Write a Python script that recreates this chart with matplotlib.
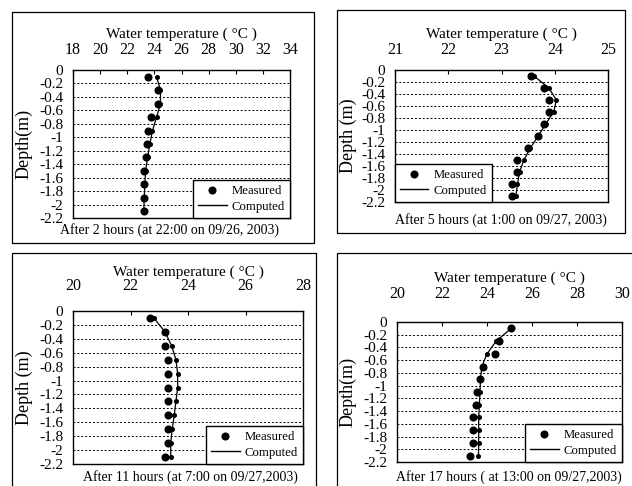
import matplotlib
matplotlib.use("Agg")
import matplotlib.pyplot as plt
from matplotlib.patches import Rectangle
from matplotlib.lines import Line2D

plt.rcParams['font.family'] = ['Liberation Serif', 'DejaVu Serif']

depth = [-0.1, -0.3, -0.5, -0.7, -0.9, -1.1, -1.3, -1.5, -1.7, -1.9, -2.1]

meas_2h = [23.54, 24.28, 24.28, 23.74, 23.50, 23.42, 23.35, 23.25, 23.22, 23.22, 23.22]
comp_2h = [24.16, 24.45, 24.45, 24.16, 23.86, 23.67, 23.50, 23.35, 23.30, 23.25, 23.22]

meas_5h = [23.55, 23.79, 23.89, 23.89, 23.80, 23.69, 23.50, 23.30, 23.30, 23.20, 23.20]
comp_5h = [23.61, 23.89, 24.03, 23.98, 23.83, 23.69, 23.54, 23.42, 23.34, 23.30, 23.27]

meas_11h = [22.67, 23.20, 23.20, 23.31, 23.31, 23.31, 23.31, 23.31, 23.31, 23.31, 23.20]
comp_11h = [22.81, 23.20, 23.43, 23.58, 23.64, 23.64, 23.58, 23.52, 23.45, 23.40, 23.40]

meas_17h = [25.07, 24.53, 24.36, 23.81, 23.71, 23.56, 23.49, 23.37, 23.37, 23.37, 23.26]
comp_17h = [25.07, 24.41, 24.00, 23.77, 23.71, 23.69, 23.66, 23.63, 23.63, 23.63, 23.62]

yticks = [0, -0.2, -0.4, -0.6, -0.8, -1, -1.2, -1.4, -1.6, -1.8, -2, -2.2]
ytick_labels = ['0', '-0.2', '-0.4', '-0.6', '-0.8', '-1', '-1.2', '-1.4', '-1.6', '-1.8', '-2', '-2.2']

xticks_2h = [18, 20, 22, 24, 26, 28, 30, 32, 34]
xticks_5h = [21, 22, 23, 24, 25]
xticks_11h = [20, 22, 24, 26, 28]
xticks_17h = [20, 22, 24, 26, 28, 30]

captions = ["After 2 hours (at 22:00 on 09/26, 2003)",
            "After 5 hours (at 1:00 on 09/27, 2003)",
            "After 11 hours (at 7:00 on 09/27,2003)",
            "After 17 hours ( at 13:00 on 09/27,2003)"]
ylabels = ["Depth(m)", "Depth (m)", "Depth (m)", "Depth(m)"]
xtitle = "Water temperature ( °C )"

W, H = 632, 486
fig = plt.figure(figsize=(W / 100, H / 100), dpi=100)


def fx(px):
    return px / W


def fy(py):
    return 1 - py / H


# panel frames (pixel coords: left, top, right, bottom)
frames = [(12, 12, 314, 243), (337, 10, 625, 233), (12, 253, 316, 492), (337, 253, 634, 492)]
for l, t, r, b in frames:
    fig.patches.append(Rectangle((fx(l), fy(b)), fx(r - l), (b - t) / H, transform=fig.transFigure,
                                 fill=False, edgecolor='black', lw=0.9))

# axes rects in pixels (left, top, right, bottom)
rects = [(73, 70, 290, 218), (395, 70, 608, 202), (73, 311, 303, 464), (397, 322, 622, 462)]
series = [(meas_2h, comp_2h, xticks_2h), (meas_5h, comp_5h, xticks_5h),
          (meas_11h, comp_11h, xticks_11h), (meas_17h, comp_17h, xticks_17h)]
legend_locs = ['lower right', 'lower left', 'lower right', 'lower right']
tick_pads = [8.6, 8.6, 12, 14.6]
title_pads = [3, 3, 2, 3]
caption_y = [230, 220, 477, 477]
caption_x = [169, 501, 190, 509]
ylabel_x = [33, 357, 33, 357]

for i, ((l, t, r, b), (meas, comp, xt)) in enumerate(zip(rects, series)):
    ax = fig.add_axes([fx(l), fy(b), fx(r - l), (b - t) / H])
    ax.plot(comp, depth, color='black', lw=0.9, marker='o', markersize=2.6, label='Computed')
    ax.plot(meas, depth, linestyle='none', marker='o', color='black', markersize=4.8, label='Measured')
    ax.set_xlim(xt[0], xt[-1])
    ax.set_ylim(-2.2, 0)
    ax.set_xticks(xt)
    ax.set_xticklabels([str(v) for v in xt], fontsize=11.5)
    ax.xaxis.tick_top()
    ax.tick_params(axis='x', direction='in', length=3, pad=tick_pads[i], top=True, bottom=False)
    ax.set_yticks(yticks)
    ax.set_yticklabels(ytick_labels, fontsize=11)
    ax.tick_params(axis='y', direction='in', length=0, pad=7)
    ax.yaxis.grid(True, linestyle=(0, (2, 2)), color='black', lw=0.7)
    for s in ax.spines.values():
        s.set_linewidth(1.0)
    ax.xaxis.set_label_position('top')
    ax.set_xlabel(xtitle, fontsize=11, labelpad=title_pads[i])
    ax.set_ylabel(ylabels[i], fontsize=13)
    ax.yaxis.set_label_coords((ylabel_x[i] - l) / (r - l), 0.5)
    handles = [Line2D([], [], linestyle='none', marker='o', color='black', markersize=4.8),
               Line2D([], [], color='black', lw=1.0)]
    leg = ax.legend(handles, ['Measured', 'Computed'], loc=legend_locs[i], fontsize=9.2,
                    frameon=True, fancybox=False, edgecolor='black', framealpha=1,
                    borderaxespad=0, handlelength=2.2, handletextpad=0.4, borderpad=0.4,
                    labelspacing=0.3)
    leg.get_frame().set_linewidth(1.0)
    fig.text(fx(caption_x[i]), fy(caption_y[i]), captions[i], ha='center', va='center', fontsize=10)

fig.savefig('out.png', dpi=100, facecolor='white')
